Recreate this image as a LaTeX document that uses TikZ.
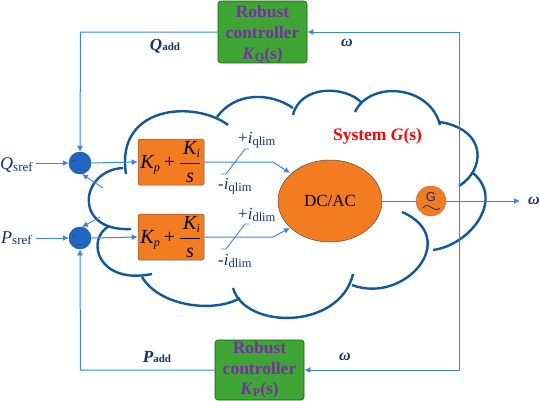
\documentclass[tikz,border=0pt]{standalone}
\usepackage{fontspec}
\setmainfont{Liberation Serif}
\newfontfamily\gsans{Liberation Sans}
\usetikzlibrary{arrows.meta,shapes.geometric}
\definecolor{cloudc}{HTML}{10589C}
\definecolor{linec}{HTML}{3D85D6}
\definecolor{navyc}{HTML}{12306E}
\definecolor{orangec}{HTML}{F47C20}
\definecolor{greenc}{HTML}{3FA535}
\definecolor{purplec}{HTML}{7A2EA6}
\definecolor{sumc}{HTML}{2266C2}
\newcommand{\pifrac}{{\fontsize{20}{20}\selectfont\ensuremath{\displaystyle\mbox{\itshape K}_{\mbox{\fontsize{12}{12}\selectfont\itshape p}}\,\mbox{+}\,\frac{\rule[-3pt]{0pt}{14pt}\,\mbox{\itshape K}_{\mbox{\fontsize{12}{12}\selectfont\itshape i}}}{\rule{0pt}{17pt}\mbox{\itshape s}}}}}
\newcommand{\limlabel}[2]{{\fontsize{17}{17}\selectfont #1\textit{i}}{\fontsize{12.5}{12.5}\selectfont\raisebox{-2.5pt}{#2}}}
\tikzset{
  cloudarc/.style={draw=cloudc,line width=2.4pt,line cap=butt},
  conn/.style={draw=linec,line width=1pt},
  arr/.style={conn,-{Latex[length=6pt,width=6pt]}},
  thin conn/.style={draw=linec,line width=0.9pt},
  robust/.style={draw=green!40!black,fill=greenc,rounded corners=3pt,line width=.6pt,minimum width=89pt,minimum height=60pt,inner sep=0pt,text=purplec,font=\fontsize{17.5}{21}\selectfont\bfseries,align=center},
  pibox/.style={draw=gray!70!black,fill=orangec,rounded corners=1.5pt,line width=.5pt,minimum width=66pt,minimum height=46pt,inner sep=0pt},
  sumnode/.style={circle,draw=cloudc,fill=sumc,line width=.5pt,minimum size=22pt,inner sep=0pt},
  sign/.style={text=navyc,font=\fontsize{7}{7}\selectfont,inner sep=0pt},
  lbl/.style={text=navyc,inner sep=0pt},
}
\begin{document}
\begin{tikzpicture}[x=1pt,y=-1pt]
\useasboundingbox (0,0) rectangle (540,400);
% cloud
\draw[cloudarc] (228,125) .. controls (195,100) and (115,105) .. (126,174);
\draw[cloudarc] (123,168) .. controls (80,170) and (72,232) .. (131,229);
\draw[cloudarc] (109,226) .. controls (85,240) and (98,285) .. (152,274);
\draw[cloudarc] (142,277) .. controls (160,307) and (215,313) .. (240,298);
\draw[cloudarc] (233,288) .. controls (245,330) and (340,330) .. (353,274);
\draw[cloudarc] (352,285) .. controls (405,305) and (462,238) .. (402,212);
\draw[cloudarc] (433,250) .. controls (470,245) and (505,200) .. (473,173);
\draw[cloudarc] (459,186) .. controls (485,170) and (488,130) .. (440,122);
\draw[cloudarc] (440,125) .. controls (430,85) and (370,80) .. (355,112);
\draw[cloudarc] (362,103) .. controls (345,85) and (300,85) .. (293,115);
\draw[cloudarc] (293,108) .. controls (270,92) and (235,92) .. (217,117);
% nodes
\node[robust] (kq) at (262.5,32) {\rule{0pt}{16pt}Robust\\controller\\\textit{K}\raisebox{-2pt}{\fontsize{12}{12}\selectfont Q}(s)};
\node[robust] (kp) at (259.5,370) {Robust\\controller\\[-1pt]\textit{K}\raisebox{-1.5pt}{\fontsize{12}{12}\selectfont P}(s)};
\node[sumnode] (s1) at (80,163) {};
\node[sumnode] (s2) at (80,238) {};
\node[sign] at (74,162) {+}; \node[sign] at (80,171) {\textminus};
\node[sign] at (74,237) {+}; \node[sign] at (80,246) {\textminus};
\node[pibox] (pi1) at (171,162) {\pifrac};
\node[pibox] (pi2) at (171,237) {\pifrac};
\node[ellipse,draw=gray!60!black,fill=orangec,line width=.5pt,minimum width=104pt,minimum height=82pt,inner sep=0pt,font=\fontsize{17}{17}\selectfont] (conv) at (330,201) {DC/AC};
\node[circle,draw=gray!60!orangec,fill=orangec,line width=.4pt,minimum size=30pt,inner sep=0pt] (gen) at (431,201) {};
\node[text=navyc,inner sep=0pt,font=\gsans\fontsize{13}{13}\selectfont] (gl) at (431,197) {G};
\coordinate (w1) at (423,208);
\coordinate (w2) at (440,208);
\draw[navyc,line width=.8pt] (w1) .. controls (428,200) and (434,214) .. (w2);
% coordinates
\coordinate (qin) at (36,163); \coordinate (pin) at (36,238);
\coordinate (om) at (520,201);
\coordinate (fbt) at (459,32); \coordinate (fbb) at (459,370); \coordinate (fbm) at (459,201);
\coordinate (tl) at (80.5,32); \coordinate (bl) at (80.5,370);
\coordinate (j1) at (273,162); \coordinate (j2) at (273,237);
\coordinate (e1) at (290,173); \coordinate (e2) at (290,228);
\coordinate (c1) at (103,188); \coordinate (t1) at (82,174);
\coordinate (c2) at (100,217); \coordinate (t2) at (82,227);
% connectors
\draw[arr] (qin) -- (s1.west);
\draw[arr] (pin) -- (s2.west);
\draw[arr] (s1.east) -- (pi1.west);
\draw[arr] (s2.east) -- (pi2.west);
\draw[arr] (kq.west) -- (tl) -- (s1.north);
\draw[arr] (kp.west) -- (bl) -- (s2.south);
\draw[arr] (fbm) -- (fbt) -- (kq.east);
\draw[arr] (fbm) -- (fbb) -- (kp.east);
\draw[arr,line width=.9pt] (c1) -- (t1);
\draw[arr,line width=.9pt] (c2) -- (t2);
\draw[arr] (pi1.east) -- (j1) -- (e1);
\draw[arr] (pi2.east) -- (j2) -- (e2);
\draw[conn] (conv.east) -- (gen.west);
\draw[arr] (gen.east) -- (om);
% limiters
\coordinate (l1a) at (221,174); \coordinate (l1b) at (226,174); \coordinate (l1c) at (245,149); \coordinate (l1d) at (249,149);
\coordinate (l2a) at (221,249); \coordinate (l2b) at (226,249); \coordinate (l2c) at (245,224); \coordinate (l2d) at (249,224);
\draw[thin conn] (l1a) -- (l1b) -- (l1c) -- (l1d);
\draw[thin conn] (l2a) -- (l2b) -- (l2c) -- (l2d);
% labels
\node[lbl,anchor=west] (q) at (0,165) {{\fontsize{18}{18}\selectfont\textit{Q}}{\fontsize{13}{13}\selectfont\raisebox{-1.5pt}{sref}}};
\node[lbl,anchor=west] (p) at (1,238) {{\fontsize{18}{18}\selectfont\textit{P}}{\fontsize{13}{13}\selectfont\raisebox{-1.5pt}{sref}}};
\node[lbl,anchor=west] (lq1) at (238,140) {\limlabel{+}{qlim}};
\node[lbl,anchor=west] (lq2) at (218,186) {\limlabel{-}{qlim}};
\node[lbl,anchor=west] (ld1) at (238,215) {\limlabel{+}{dlim}};
\node[lbl,anchor=west] (ld2) at (218,261) {\limlabel{-}{dlim}};
\node[lbl] (qa) at (165,46) {{\fontsize{17}{17}\selectfont\bfseries\itshape Q}{\fontsize{11}{11}\selectfont\bfseries add}};
\node[lbl] (pa) at (157,357) {{\fontsize{17}{17}\selectfont\bfseries\itshape P}{\fontsize{11}{11}\selectfont\bfseries add}};
\node[lbl,font=\fontsize{16}{16}\selectfont\bfseries\itshape] (w1l) at (347,43) {ω};
\node[lbl,font=\fontsize{16}{16}\selectfont\bfseries\itshape] (w2l) at (345,357) {ω};
\node[lbl,font=\fontsize{16}{16}\selectfont\bfseries\itshape] (w3l) at (534,201) {ω};
\node[text=red,inner sep=0pt,font=\fontsize{17.5}{17.5}\selectfont\bfseries] (sys) at (377.5,136) {System \textit{G}(s)};
\end{tikzpicture}
\end{document}
